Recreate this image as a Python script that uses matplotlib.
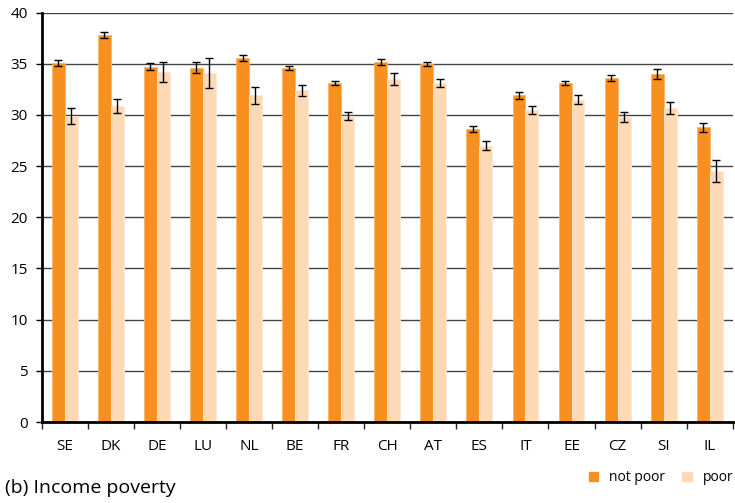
import numpy as np
import matplotlib as mpl
mpl.use('agg')
import matplotlib.pyplot as plt
from matplotlib.patches import Rectangle

countries = ['SE', 'DK', 'DE', 'LU', 'NL', 'BE', 'FR', 'CH', 'AT', 'ES', 'IT', 'EE', 'CZ', 'SI', 'IL']
not_poor = [35.1, 37.8, 34.7, 34.6, 35.6, 34.6, 33.1, 35.2, 35.0, 28.6, 31.9, 33.1, 33.6, 34.0, 28.8]
not_poor_err = [0.3, 0.3, 0.35, 0.55, 0.3, 0.2, 0.2, 0.28, 0.2, 0.3, 0.3, 0.2, 0.27, 0.45, 0.45]
poor = [29.9, 30.9, 34.2, 34.1, 31.9, 32.4, 29.9, 33.5, 33.1, 27.0, 30.5, 31.5, 29.8, 30.7, 24.5]
poor_err = [0.8, 0.7, 1.0, 1.5, 0.8, 0.55, 0.4, 0.6, 0.4, 0.45, 0.4, 0.42, 0.5, 0.6, 1.1]

ORANGE = '#f7901e'
PEACH = '#fdd9b5'

plt.rcParams['font.family'] = ['Open Sans', 'DejaVu Sans']

fig = plt.figure(figsize=(7.35, 5.03), dpi=100)
ax = fig.add_axes((0.0567, 0.161, 0.9403, 0.814))

x = np.arange(len(countries))
w = 0.28
err_kw = dict(ecolor='black', elinewidth=1.0, capsize=3, capthick=1.0)
ax.bar(x - w / 2, not_poor, w, color=ORANGE, edgecolor='#fbb46a', linewidth=0.6,
       yerr=not_poor_err, error_kw=err_kw, zorder=2)
ax.bar(x + w / 2, poor, w, color=PEACH, edgecolor='#fee8d2', linewidth=0.6,
       yerr=poor_err, error_kw=err_kw, zorder=2)

ax.set_xlim(-0.5, len(countries) - 0.5)
ax.set_ylim(0, 40)
ax.set_yticks(np.arange(0, 41, 5))
ax.yaxis.grid(True, color='#444444', linewidth=1.0)
ax.set_axisbelow(True)

# category labels centred, tick marks between groups
ax.set_xticks(x)
ax.set_xticklabels(countries, fontsize=11)
ax.set_xticks(np.arange(-0.5, len(countries), 1), minor=True)
ax.tick_params(axis='x', which='major', length=0, pad=12)
ax.tick_params(axis='x', which='minor', direction='out', length=5, width=1, color='#222222')
ax.tick_params(axis='y', length=4, width=1, labelsize=11, pad=6)

for side in ('top', 'right'):
    ax.spines[side].set_visible(False)
ax.spines['left'].set_linewidth(2)
ax.spines['bottom'].set_linewidth(2)
ax.spines['left'].set_zorder(4)
ax.spines['bottom'].set_zorder(4)

# legend at the lower right
handles = [Rectangle((0, 0), 1, 1, color=ORANGE), Rectangle((0, 0), 1, 1, color=PEACH)]
fig.legend(handles, ['not poor', 'poor'], loc='lower right', bbox_to_anchor=(1.015, 0.01),
           ncol=2, frameon=False, fontsize=10, handlelength=0.7, handleheight=0.7,
           columnspacing=1.2, handletextpad=0.8)

fig.text(0.007, 0.012, '(b) Income poverty', fontsize=14, ha='left', va='bottom')

plt.savefig('out.png', dpi=100)
